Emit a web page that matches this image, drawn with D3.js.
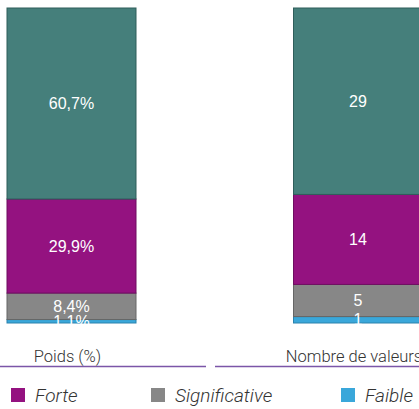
<!DOCTYPE html>
<html><head><meta charset="utf-8">
<script src="https://cdn.jsdelivr.net/npm/d3@7"></script>
<style>body{margin:0;background:#fff}svg{display:block}</style>
</head><body>
<svg id="c" width="419" height="409"></svg>
<script>
const categories = ["Poids (%)", "Nombre de valeurs"];
const series = ["Faible", "Significative", "Forte", "Autre"];
const poids = [1.1, 8.4, 29.9, 60.7];
const nombre = [1, 5, 14, 29];
const poidsLabels = ["1,1%", "8,4%", "29,9%", "60,7%"];
const nombreLabels = ["1", "5", "14", "29"];
const legendItems = ["Forte", "Significative", "Faible"];

const fill = {Faible:"#3aa7da", Significative:"#878787", Forte:"#941280", Autre:"#457f7b"};
const stroke = {Faible:"#2a82ad", Significative:"#666", Forte:"#6e0d60", Autre:"#2f5e5b"};

const svg = d3.select("#c");
const x = d3.scalePoint().domain(categories).range([71.5, 358]);
const barW = 129;
const bars = [
  {cat: categories[0], vals: poids, labels: poidsLabels},
  {cat: categories[1], vals: nombre, labels: nombreLabels}
];
bars.forEach(b => {
  const total = d3.sum(b.vals);
  const y = d3.scaleLinear().domain([0, total]).range([323, 8]);
  let acc = 0;
  const g = svg.append("g");
  b.vals.forEach((v, i) => {
    const y0 = acc, y1 = acc + v; acc = y1;
    const s = series[i];
    g.append("rect").attr("x", x(b.cat) - barW/2).attr("width", barW)
      .attr("y", y(y1)).attr("height", y(y0) - y(y1))
      .attr("fill", fill[s]).attr("stroke", stroke[s]).attr("stroke-width", 1);
  });
  acc = 0;
  b.vals.forEach((v, i) => {
    const y0 = acc, y1 = acc + v; acc = y1;
    g.append("text").attr("x", x(b.cat)).attr("y", (y(y0) + y(y1))/2)
      .attr("text-anchor", "middle").attr("dominant-baseline", "central")
      .attr("fill", "#fff").attr("font-family", "Liberation Sans, Arial").attr("font-size", 16)
      .text(b.labels[i]);
  });
});
// category axis underlines
const segs = [[0, 206], [215, 430]];
categories.forEach((c, i) => {
  svg.append("line").attr("x1", segs[i][0]).attr("x2", segs[i][1])
    .attr("y1", 366.5).attr("y2", 366.5).attr("stroke", "#7b56a8").attr("stroke-width", 1.5);
  svg.append("text").attr("x", x(c) - 4).attr("y", 362).attr("text-anchor", "middle")
    .attr("font-family", "Roboto").attr("font-weight", 300).attr("font-size", 16.5)
    .attr("fill", "#333").text(c);
});
// legend
const lx = [11, 151, 341];
legendItems.forEach((s, i) => {
  svg.append("rect").attr("x", lx[i]).attr("y", 388).attr("width", 14).attr("height", 14).attr("fill", fill[s]);
  svg.append("text").attr("x", lx[i] + 24).attr("y", 402).attr("font-family", "Roboto")
    .attr("font-weight", 300).attr("font-style", "italic").attr("font-size", 19)
    .attr("fill", "#333").text(s);
});
</script>
</body></html>
